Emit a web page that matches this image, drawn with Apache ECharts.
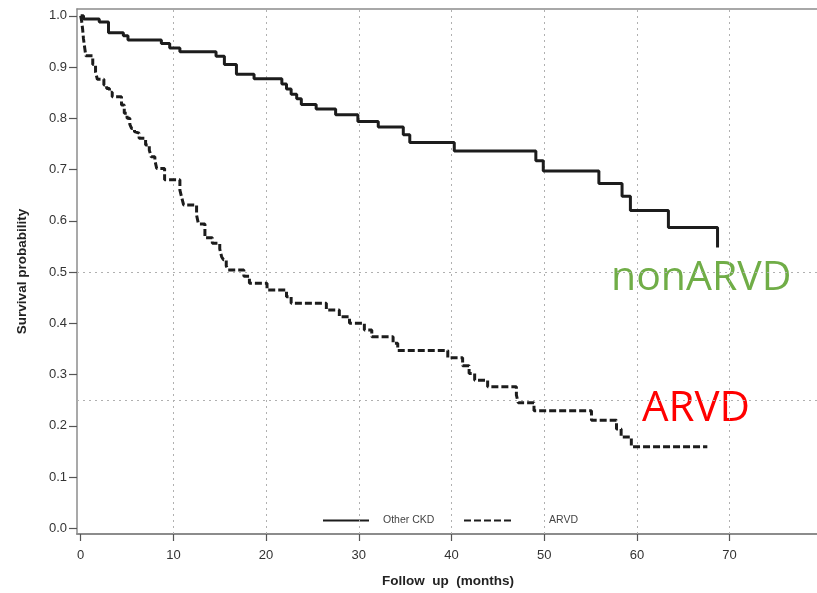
<!DOCTYPE html>
<html>
<head>
<meta charset="utf-8">
<script src="https://cdn.jsdelivr.net/npm/echarts@6/dist/echarts.min.js"></script>
<style>
  html, body { margin: 0; padding: 0; background: #fff; }
  #chart { width: 817px; height: 593px; }
</style>
</head>
<body>
<div id="chart"></div>
<script>
// Kaplan-Meier survival estimates: each point is the survival value from that month onward
const otherCkdMonths = [0, 0.3, 2.0, 3.0, 4.6, 5.1, 8.7, 9.6, 10.7, 14.6, 15.5, 16.8, 18.7, 21.7, 22.2, 22.7, 23.3, 23.8, 25.4, 27.5, 29.9, 32.1, 34.8, 35.5, 40.3, 49.1, 49.9, 55.9, 58.4, 59.3, 63.4, 68.7];
const otherCkdSurvival = [1.0, 0.994, 0.988, 0.967, 0.961, 0.953, 0.946, 0.937, 0.930, 0.921, 0.905, 0.886, 0.877, 0.867, 0.857, 0.847, 0.838, 0.827, 0.818, 0.807, 0.794, 0.783, 0.768, 0.753, 0.736, 0.717, 0.697, 0.673, 0.648, 0.620, 0.587, 0.548];

const arvdMonths = [0, 0.1, 0.2, 0.3, 0.45, 0.55, 1.3, 1.6, 1.8, 2.5, 2.8, 3.1, 3.4, 4.4, 4.7, 5.0, 5.3, 5.5, 5.8, 6.0, 6.3, 7.0, 7.4, 7.6, 8.0, 8.2, 9.05, 10.7, 10.9, 11.1, 12.5, 12.7, 13.4, 14.2, 15.0, 15.2, 15.4, 15.7, 15.9, 17.6, 18.2, 20.1, 22.2, 22.7, 26.5, 27.9, 29.0, 30.6, 31.4, 33.7, 34.2, 39.6, 41.2, 41.9, 42.5, 43.9, 47.0, 47.2, 48.9, 55.1, 57.8, 58.3, 59.4, 67.6];
const arvdSurvival = [1.0, 0.99, 0.975, 0.955, 0.935, 0.922, 0.905, 0.89, 0.876, 0.865, 0.858, 0.851, 0.842, 0.826, 0.81, 0.80, 0.788, 0.78, 0.774, 0.771, 0.761, 0.748, 0.738, 0.725, 0.718, 0.702, 0.680, 0.66, 0.645, 0.631, 0.611, 0.594, 0.567, 0.556, 0.545, 0.53, 0.524, 0.512, 0.504, 0.492, 0.478, 0.465, 0.452, 0.439, 0.426, 0.413, 0.400, 0.387, 0.374, 0.361, 0.347, 0.333, 0.317, 0.302, 0.289, 0.276, 0.26, 0.245, 0.2295, 0.211, 0.194, 0.178, 0.159, 0.159];

const xTickValues = [0, 10, 20, 30, 40, 50, 60, 70];
const yTickValues = [0.0, 0.1, 0.2, 0.3, 0.4, 0.5, 0.6, 0.7, 0.8, 0.9, 1.0];
const xGridLines = [10, 20, 30, 40, 50, 60, 70];
const yReferenceLines = [0.5, 0.25];

const zip = (xs, ys) => xs.map((x, i) => [x, ys[i]]);

const axisGrey = '#8c8c8c';
const dotted = { color: '#b0b0b0', width: 1, type: [2, 4] };
const font = '"Liberation Sans", Arial, Helvetica, sans-serif';
const hiddenSymbol = { color: 'rgba(0,0,0,0)', borderColor: 'rgba(0,0,0,0)', borderWidth: 0, opacity: 0 };
const xMin = -0.40;
const xMax = 79.43;

const chart = echarts.init(document.getElementById('chart'), null, { renderer: 'canvas' });

chart.setOption({
  animation: false,
  backgroundColor: '#fff',
  grid: { left: 77, top: 9, right: 0, bottom: 59 },
  xAxis: [
    {
      type: 'value',
      min: xMin, max: xMax,
      name: 'Follow  up  (months)',
      nameLocation: 'middle',
      nameGap: 40,
      nameTextStyle: { fontFamily: font, fontWeight: 'bold', fontSize: 13.5, color: '#222', padding: [0, 0, 0, 2] },
      axisLine: { show: true, onZero: false, lineStyle: { color: axisGrey, width: 2 } },
      axisTick: { show: true, length: 7, customValues: xTickValues, lineStyle: { color: '#555', width: 1.2 } },
      axisLabel: { customValues: xTickValues, margin: 15, fontFamily: font, fontSize: 13, color: '#333' },
      splitLine: { show: false }
    },
    {
      // frame line along the top of the plot
      type: 'value',
      position: 'top',
      min: xMin, max: xMax,
      axisLine: { show: true, onZero: false, lineStyle: { color: axisGrey, width: 1.5 } },
      axisTick: { show: false },
      axisLabel: { show: false },
      splitLine: { show: false }
    }
  ],
  yAxis: {
    type: 'value',
    min: -0.0111, max: 1.0133,
    name: 'Survival probability',
    nameLocation: 'middle',
    nameGap: 48,
    nameTextStyle: { fontFamily: font, fontWeight: 'bold', fontSize: 13.5, color: '#222' },
    axisLine: { show: true, onZero: false, lineStyle: { color: axisGrey, width: 1.5 } },
    axisTick: { show: true, length: 8, customValues: yTickValues, lineStyle: { color: '#555', width: 1.2 } },
    axisLabel: {
      customValues: yTickValues, margin: 10, fontFamily: font, fontSize: 13, color: '#333',
      formatter: v => v.toFixed(1)
    },
    splitLine: { show: false }
  },
  legend: [
    {
      data: ['Other CKD'], left: 317, top: 510, itemWidth: 46, itemHeight: 14,
      selectedMode: false, lineStyle: { width: 2 }, itemStyle: hiddenSymbol,
      textStyle: { fontFamily: font, fontSize: 10.5, color: '#444', padding: [0, 0, 0, 9] }
    },
    {
      data: ['ARVD'], left: 458, top: 510, itemWidth: 47, itemHeight: 14,
      selectedMode: false, lineStyle: { width: 2 }, itemStyle: hiddenSymbol,
      textStyle: { fontFamily: font, fontSize: 10.5, color: '#444', padding: [0, 0, 0, 33] }
    }
  ],
  series: [
    {
      name: 'Other CKD',
      type: 'line',
      xAxisIndex: 0,
      step: 'end',
      symbol: 'none',
      data: zip(otherCkdMonths, otherCkdSurvival),
      lineStyle: { color: '#1c1c1c', width: 3, type: 'solid' },
      itemStyle: { color: '#1c1c1c' },
      z: 5,
      markLine: {
        silent: true,
        symbol: 'none',
        label: { show: false },
        lineStyle: dotted,
        data: xGridLines.map(v => ({ xAxis: v })).concat(yReferenceLines.map(v => ({ yAxis: v })))
      }
    },
    {
      name: 'ARVD',
      type: 'line',
      xAxisIndex: 0,
      step: 'end',
      symbol: 'none',
      data: zip(arvdMonths, arvdSurvival),
      lineStyle: { color: '#1c1c1c', width: 3, type: [7, 3] },
      itemStyle: { color: '#1c1c1c' },
      z: 5
    }
  ],
  graphic: [
    {
      type: 'text', left: 611, top: 258,
      style: { text: 'nonARVD', fill: '#70ad47', font: '41px "Open Sans", sans-serif' }
    },
    {
      type: 'text', left: 642, top: 388,
      style: { text: 'ARVD', fill: '#ff0000', font: '42px "Open Sans", sans-serif' }
    }
  ]
});
</script>
</body>
</html>
